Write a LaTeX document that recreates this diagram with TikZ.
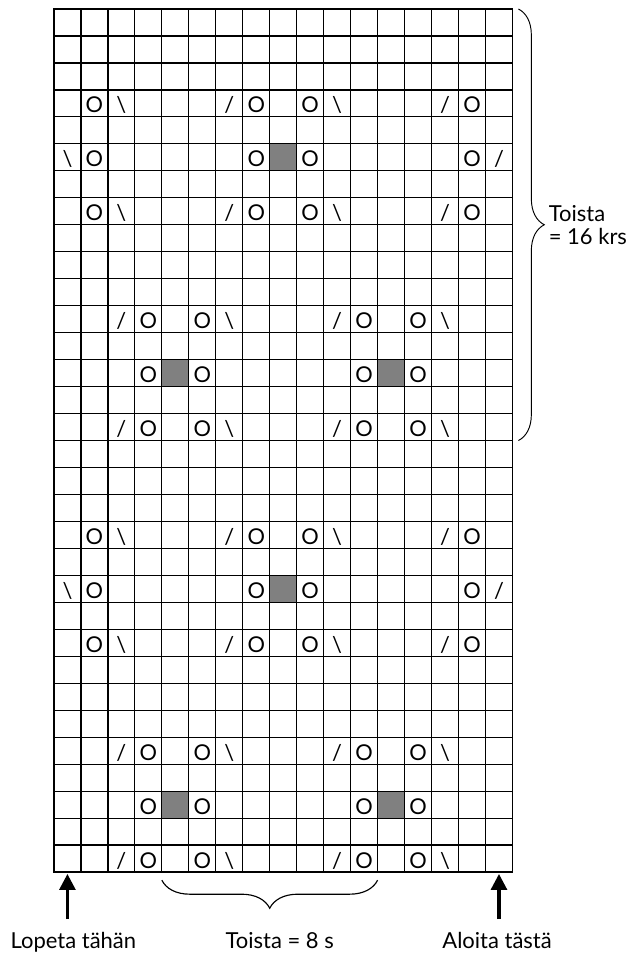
\documentclass[tikz,border=0pt]{standalone}
\usepackage{fontspec}
\setmainfont{Lato}
\usepackage{tikz}
\usetikzlibrary{arrows.meta,positioning,decorations.pathreplacing}
\definecolor{ink}{HTML}{000000}
\definecolor{knot}{HTML}{808080}
\tikzset{
  sym/.style={font=\fontsize{11.5}{11.5}\selectfont,anchor=base,inner sep=0pt},
  lbl/.style={font=\fontsize{11.6}{12.3}\selectfont,inner sep=0pt},
}

\begin{document}
\begin{tikzpicture}[x=0.5cm,y=0.5cm,>={Triangle[length=8.4pt,width=8.4pt]},line width=0.65pt]
  \useasboundingbox (-2,-3.037) rectangle (21.296,32.333);
  % nupit (grey cells), two repeats of 16 rows
  \foreach \o in {0,16}{
    \foreach \x in {4,12} \fill[knot] (\x,\o+2) rectangle ++(1,1);
    \fill[knot] (8,\o+10) rectangle ++(1,1);
  }
  % grid
  \draw[draw=ink,xstep=0.5cm,ystep=0.5cm] (0,0) grid (17,32);
  \draw[draw=ink,line width=1pt] (0,0) rectangle (17,32);
  % symbols, baseline a little above the cell bottom
  \foreach \o in {0,16}{
    \foreach \y in {0,4}\foreach \x in {2,10}{
      \node[sym] (a-\o-\y-\x) at (\x+0.5,\o+\y+0.15) {/};
      \node[sym] (b-\o-\y-\x) at (\x+1.5,\o+\y+0.15) {O};
      \node[sym] (c-\o-\y-\x) at (\x+3.5,\o+\y+0.15) {O};
      \node[sym] (d-\o-\y-\x) at (\x+4.5,\o+\y+0.15) {\textbackslash};}
    \foreach \x in {2,10}{
      \node[sym] (e-\o-\x) at (\x+1.5,\o+2.15) {O};
      \node[sym] (f-\o-\x) at (\x+3.5,\o+2.15) {O};}
    \foreach \y in {8,12}\foreach \x in {0,8}{
      \node[sym] (g-\o-\y-\x) at (\x+1.5,\o+\y+0.15) {O};
      \node[sym] (h-\o-\y-\x) at (\x+2.5,\o+\y+0.15) {\textbackslash};
      \node[sym] (i-\o-\y-\x) at (\x+6.5,\o+\y+0.15) {/};
      \node[sym] (j-\o-\y-\x) at (\x+7.5,\o+\y+0.15) {O};}
    \node[sym] (k-\o) at (0.5,\o+10.15) {\textbackslash};
    \foreach \x in {1.5,7.5,9.5,15.5}
      \node[sym] (m-\o-\x) at (\x,\o+10.15) {O};
    \node[sym] (n-\o) at (16.5,\o+10.15) {/};
  }
  % repeat braces
  \draw[draw=ink,line width=0.5pt,decorate,decoration={brace,amplitude=0.48cm}]
    (17.22,32) -- (17.22,16)
    node[lbl,midway,right=0.555cm,align=left] (rows) {Toista\\= 16 krs};
  \draw[draw=ink,line width=0.6pt,decorate,decoration={brace,amplitude=0.52cm}]
    (12,-0.3) -- (4,-0.3);
  \node[lbl,anchor=base] (sts) at (8.37,-2.85) {Toista = 8 s};
  % start and stop arrows
  \coordinate (stopfoot) at (0.5,-1.74);
  \coordinate (stophead) at (0.5,-0.07);
  \coordinate (startfoot) at (16.5,-1.74);
  \coordinate (starthead) at (16.5,-0.07);
  \draw[->,draw=ink,line width=1.6pt] (stopfoot) -- (stophead);
  \draw[->,draw=ink,line width=1.6pt] (startfoot) -- (starthead);
  \node[lbl,anchor=base] (stop) at (0.72,-2.85) {Lopeta tähän};
  \node[lbl,anchor=base] (start) at (16.43,-2.85) {Aloita tästä};
\end{tikzpicture}
\end{document}
